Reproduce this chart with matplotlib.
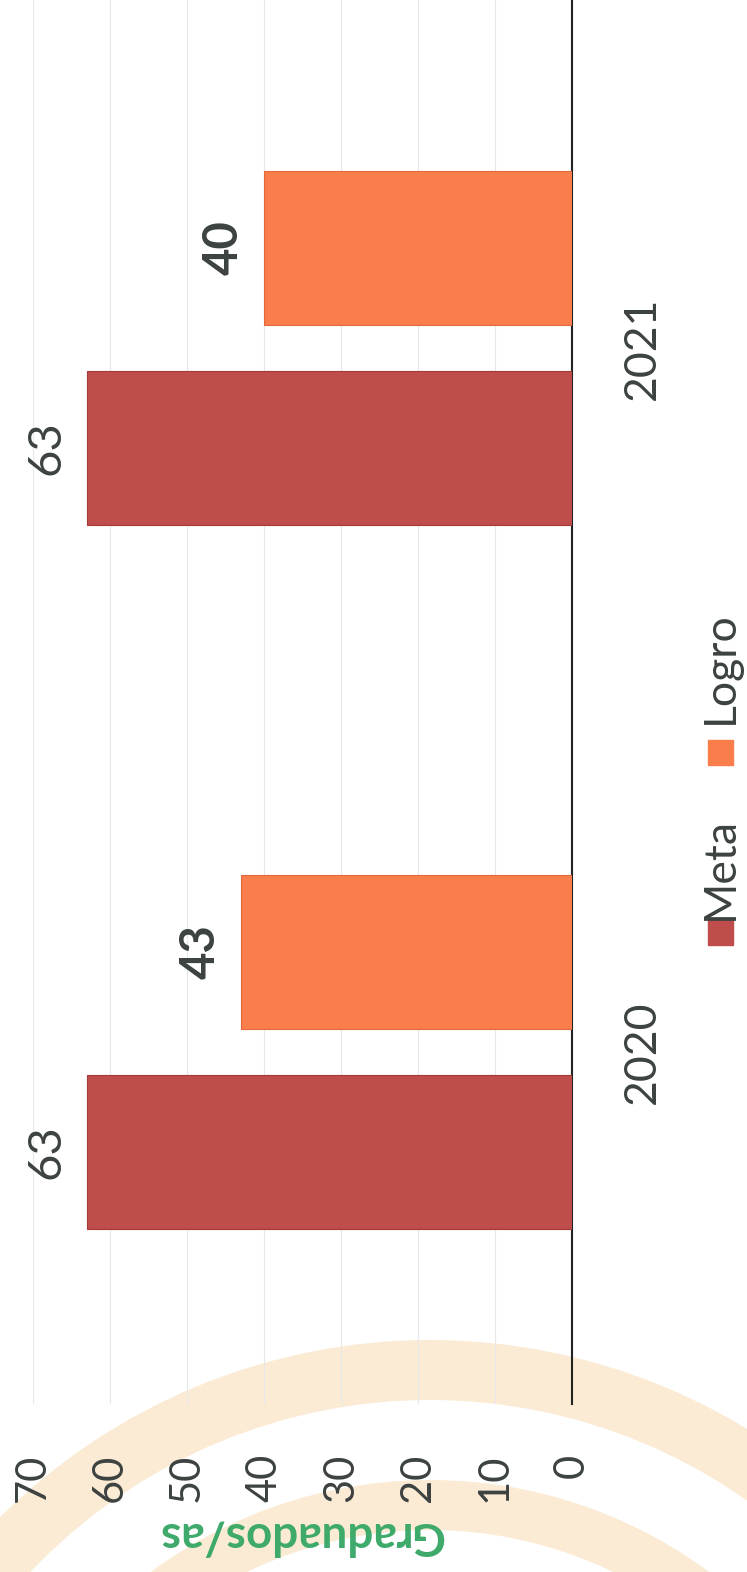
import matplotlib
matplotlib.use("Agg")
import matplotlib.pyplot as plt
from matplotlib.patches import Rectangle, Wedge
import numpy as np

# ---- data ----
categories = ["2020", "2021"]
meta = [63, 63]
logro = [43, 40]
series_names = ["Meta", "Logro"]
value_ticks = [0, 10, 20, 30, 40, 50, 60, 70]
axis_label = "Graduados/as"

# ---- style ----
plt.rcParams['font.family'] = ['Lato', 'DejaVu Sans']
META_C = "#BE4D4B"
LOGRO_C = "#FA7E4C"
TXT = "#3C4240"
GREEN = "#3DAA6A"
WM = "#FBEBD4"

W, H = 747, 1572
fig = plt.figure(figsize=(W / 100, H / 100), dpi=100)
fig.patch.set_facecolor("white")

def fx(px):
    return px / W

def fy(py):
    return 1 - py / H

# faint background watermark (pixel-space axes)
bg = fig.add_axes([0, 0, 1, 1], zorder=-10)
bg.set_xlim(0, W)
bg.set_ylim(H, 0)
bg.axis("off")
for (cx, cy, r, w) in [(430, 1950, 610, 60), (430, 1950, 470, 50)]:
    bg.add_patch(Wedge((cx, cy), r, 180, 360, width=w, facecolor=WM, edgecolor="none"))

ax = fig.add_axes([fx(33), 168 / H, 539 / W, 1408 / H])
ax.set_facecolor("none")
ax.set_xlim(70, 0)
ax.set_ylim(-0.5, 1.5)

y = np.arange(len(categories))
off = 0.142
bh = 0.22
b1 = ax.barh(y - off, meta, height=bh, color=META_C, edgecolor="#A23A38", linewidth=0.8, zorder=3)
b2 = ax.barh(y + off, logro, height=bh, color=LOGRO_C, edgecolor="#E06A3A", linewidth=0.8, zorder=3)

for bars, weight in ((b1, "normal"), (b2, "bold")):
    for rect in bars:
        v = rect.get_width()
        yc = rect.get_y() + rect.get_height() / 2
        ax.annotate(f"{int(v)}", xy=(v, yc), xytext=(-40, 0), textcoords="offset pixels",
                    rotation=90, ha="center", va="center", fontsize=34,
                    fontweight=weight, color=TXT)

# grid
ax.set_xticks(value_ticks)
ax.set_xticklabels([str(t) for t in value_ticks], rotation=90, fontsize=30, color=TXT)
ax.tick_params(axis="x", length=0, pad=36)
ax.xaxis.grid(True, color="#E8E8E8", linewidth=0.8, zorder=0)
ax.set_axisbelow(True)

# category axis on right
ax.yaxis.tick_right()
ax.set_yticks(y)
ax.set_yticklabels(categories, rotation=90, fontsize=32, color=TXT, va="center")
ax.tick_params(axis="y", length=0, pad=36)

for s in ("left", "top", "bottom"):
    ax.spines[s].set_visible(False)
ax.spines["right"].set_color("#222222")
ax.spines["right"].set_linewidth(1.5)

# legend (rotated)
sq = 25
for name, col, sy, ty in (("Meta", META_C, 932, 868), ("Logro", LOGRO_C, 752, 668)):
    fig.add_artist(Rectangle((fx(720 - sq / 2), fy(sy + sq / 2)), sq / W, sq / H,
                             transform=fig.transFigure, color=col))
    fig.text(fx(720), fy(ty), name, rotation=90, ha="center", va="center",
             fontsize=32, color=TXT)

# axis title (upside down)
fig.text(fx(300), fy(1535), axis_label, rotation=180, ha="center", va="center",
         fontsize=33, fontweight="bold", color=GREEN)

fig.savefig("out.png", dpi=100)
